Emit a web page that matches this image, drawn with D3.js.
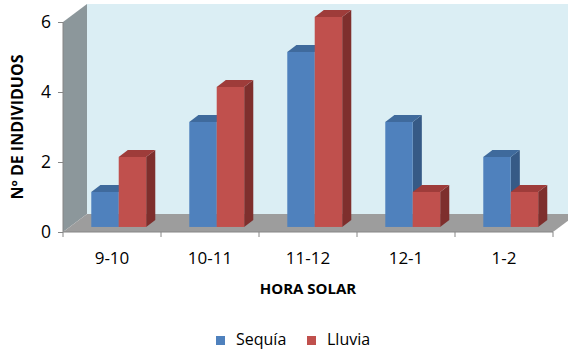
<!DOCTYPE html>
<html>
<head>
<meta charset="utf-8">
<script src="https://cdn.jsdelivr.net/npm/d3@7/dist/d3.min.js"></script>
<style>
  html, body { margin: 0; padding: 0; background: #fff; }
  svg { display: block; font-family: "Open Sans", "DejaVu Sans", sans-serif; }
</style>
</head>
<body>
<svg id="chart" width="568" height="350"></svg>
<script>
// Número de individuos por hora solar, en sequía y en lluvia
const categories = ["9-10", "10-11", "11-12", "12-1", "1-2"];
const seriesNames = ["Sequía", "Lluvia"];
const sequia = [1, 3, 5, 3, 2];
const lluvia = [2, 4, 6, 1, 1];
const yTicks = [0, 2, 4, 6];

const series = [
  { name: seriesNames[0], values: sequia, front: "#4F81BD", side: "#365A86", top: "#3F6A9C" },
  { name: seriesNames[1], values: lluvia, front: "#C0504D", side: "#7E2F2D", top: "#9E3C3A" }
];

const svg = d3.select("#chart");
const W = 568, H = 350;

// Front plane of the plot and the 3D depth vector
const x0 = 63, x1 = 553, yBase = 232, yTop = 22;
const depth = { dx: 24, dy: -18 };
const barDepth = [0.28, 0.66]; // front and back of bars, as depth fractions

const x = d3.scaleBand().domain(categories).range([x0, x1]).padding(0);
const xs = d3.scaleBand().domain(seriesNames)
  .range([x.bandwidth() * 0.22, x.bandwidth() * 0.78]).padding(0);
const y = d3.scaleLinear().domain([0, 6]).range([yBase, yTop]);

const clip = svg.append("defs").append("clipPath").attr("id", "plotclip");
clip.append("rect").attr("x", 0).attr("y", 0).attr("width", W).attr("height", H);

const g = svg.append("g").attr("clip-path", "url(#plotclip)");
const pts = a => a.map(p => p.join(",")).join(" ");

// Back wall
g.append("polygon")
  .attr("points", pts([
    [x0 + depth.dx, y(6) + depth.dy], [x1 + depth.dx + 20, y(6) + depth.dy],
    [x1 + depth.dx + 20, yBase + depth.dy], [x0 + depth.dx, yBase + depth.dy]
  ]))
  .attr("fill", "#DBEEF4");

// Side wall
g.append("polygon")
  .attr("points", pts([
    [x0, y(6)], [x0 + depth.dx, y(6) + depth.dy],
    [x0 + depth.dx, yBase + depth.dy], [x0, yBase]
  ]))
  .attr("fill", "#8C979B");

// Floor
g.append("polygon")
  .attr("points", pts([
    [x0, yBase], [x0 + depth.dx, yBase + depth.dy],
    [x1 + depth.dx, yBase + depth.dy], [x1, yBase]
  ]))
  .attr("fill", "#9D9D9D");

// Bars as boxes: front face, right side, top
const f0 = barDepth[0], f1 = barDepth[1];
const ox = depth.dx * f0, oy = depth.dy * f0;
const bx = depth.dx * (f1 - f0), by = depth.dy * (f1 - f0);

categories.forEach((c, i) => {
  series.forEach(s => {
    const v = s.values[i];
    const left = x(c) + xs(s.name) + ox;
    const right = left + xs.bandwidth();
    const top = y(v) + oy;
    const bottom = y(0) + oy;
    const bar = g.append("g");
    bar.append("polygon")
      .attr("points", pts([[right, top], [right + bx, top + by], [right + bx, bottom + by], [right, bottom]]))
      .attr("fill", s.side);
    bar.append("polygon")
      .attr("points", pts([[left, top], [left + bx, top + by], [right + bx, top + by], [right, top]]))
      .attr("fill", s.top);
    bar.append("rect")
      .attr("x", left).attr("y", top)
      .attr("width", right - left).attr("height", bottom - top)
      .attr("fill", s.front);
  });
});

// Axes
const axisColor = "#868686";
const yAxis = svg.append("g")
  .attr("transform", `translate(${x0},0)`)
  .call(d3.axisLeft(y).tickValues(yTicks).tickSize(5).tickPadding(7).tickFormat(d3.format("d")));
yAxis.select(".domain").attr("stroke", axisColor).attr("d", `M0,${yTop}V${yBase}`);
yAxis.selectAll(".tick line").attr("stroke", axisColor);
yAxis.selectAll(".tick text").attr("font-size", 17.5).attr("fill", "#000")
  .attr("font-family", "Open Sans, sans-serif");

const bounds = categories.map(c => x(c)).concat([x1]);
const xAxis = svg.append("g").attr("transform", `translate(0,${yBase})`);
xAxis.append("line").attr("x1", x0).attr("x2", x1).attr("y1", 0).attr("y2", 0)
  .attr("stroke", axisColor);
xAxis.selectAll("line.tk").data(bounds).join("line").attr("class", "tk")
  .attr("x1", d => d).attr("x2", d => d).attr("y1", 0).attr("y2", 5)
  .attr("stroke", axisColor);
xAxis.selectAll("text").data(categories).join("text")
  .attr("x", d => x(d) + x.bandwidth() / 2)
  .attr("y", 32)
  .attr("text-anchor", "middle")
  .attr("font-size", 17)
  .text(d => d);

// Axis titles
svg.append("text")
  .attr("x", 308).attr("y", 294)
  .attr("text-anchor", "middle")
  .attr("font-size", 15).attr("font-weight", "bold")
  .text("HORA SOLAR");

svg.append("text")
  .attr("transform", "translate(23,127) rotate(-90)")
  .attr("text-anchor", "middle")
  .attr("font-size", 16).attr("font-weight", "bold")
  .text("Nº DE INDIVIDUOS");

// Legend
const legend = svg.append("g");
const legendX = [216, 307];
series.forEach((s, i) => {
  legend.append("rect")
    .attr("x", legendX[i]).attr("y", 336).attr("width", 9).attr("height", 9)
    .attr("fill", s.front);
  legend.append("text")
    .attr("x", legendX[i] + 20).attr("y", 345)
    .attr("font-size", 16)
    .text(s.name);
});
</script>
</body>
</html>
